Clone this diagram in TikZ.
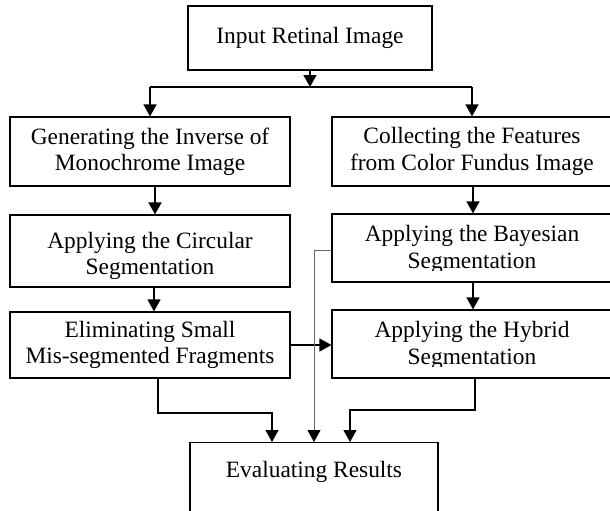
\documentclass[tikz,border=0pt]{standalone}
\usepackage{fontspec}
\setmainfont{Liberation Serif}
\usepackage{trimclip}
\usetikzlibrary{arrows.meta}

\tikzset{
  stepbox/.style={draw, line width=0.6pt, align=center, inner sep=0pt},
  flow/.style={line width=0.6pt, -{Triangle[length=6pt,width=6.5pt]}},
}
% second line that runs into the frame
\newcommand{\cutline}[1]{\clipbox{0pt 1.5pt 0pt 0pt}{#1}}

\begin{document}
\begin{tikzpicture}[x=0.5pt,y=-0.5pt,font=\fontsize{11.7}{13.2}\selectfont]
\useasboundingbox (0,0) rectangle (610,510);

\node[stepbox, minimum width=122pt, minimum height=32pt] (inp) at (310,38) {Input Retinal Image};

% left branch
\node[stepbox, minimum width=140pt, minimum height=34.5pt] (gen) at (150,151.5) {Generating the Inverse of\\Monochrome Image};
\node[stepbox, minimum width=140pt, minimum height=36pt, text height=26pt] (circ) at (150,251) {Applying the Circular\\Segmentation};
\node[stepbox, minimum width=140pt, minimum height=33pt] (elim) at (150,345) {Eliminating Small\\Mis-segmented Fragments};

% right branch
\node[stepbox, minimum width=140pt, minimum height=34.5pt] (col) at (472,151.5) {Collecting the Features\\from Color Fundus Image};
\node[stepbox, minimum width=140pt, minimum height=34pt] (bay) at (472,248) {Applying the Bayesian\\\cutline{Segmentation}};
\node[stepbox, minimum width=140pt, minimum height=34pt] (hyb) at (472,344) {Applying the Hybrid\\\cutline{Segmentation}};

\node[stepbox, minimum width=124pt, minimum height=44pt, anchor=north] (eval) at (314,442) {Evaluating Results\\ \strut};

\coordinate (split) at (310,87); % fork under the input
\coordinate (lbend) at (272,413);
\coordinate (rbend) at (350,410);

\draw[flow] (inp) -- (split);
\draw[line width=0.6pt] (split -| gen) -- (split -| col);
\draw[flow] (split -| gen) -- (gen);
\draw[flow] (split -| col) -- (col);

\draw[flow, line width=1pt] ([xshift=2.5pt]gen.south) -- ([xshift=2.5pt]circ.north);
\draw[flow] ([xshift=2pt]circ.south) -- ([xshift=2pt]elim.north);
\draw[flow] ([xshift=0.5pt]col.south) -- ([xshift=0.5pt]bay.north);
\draw[flow] ([xshift=0.5pt]bay.south) -- ([xshift=0.5pt]hyb.north);
\draw[flow] (elim.east) -- (elim.east -| hyb.west);

% into the evaluation
\draw[line width=0.4pt, black!60, -{Triangle[length=6pt,width=6.5pt,color=black]}] ([yshift=-1pt]bay.west) -| (eval.north);
\draw[flow] ([xshift=4pt]elim.south) |- (lbend) -- (lbend |- eval.north);
\draw[flow] ([xshift=1.5pt]hyb.south) |- (rbend) -- (rbend |- eval.north);
\end{tikzpicture}
\end{document}
